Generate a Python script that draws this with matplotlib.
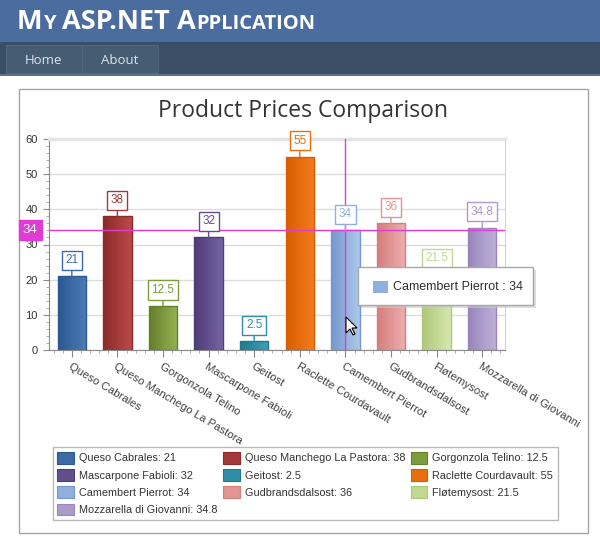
import numpy as np
import matplotlib.pyplot as plt
from matplotlib.patches import Rectangle, Polygon
from matplotlib.colors import to_rgb
from matplotlib.transforms import blended_transform_factory, ScaledTranslation

plt.rcParams['font.family'] = ['Liberation Sans', 'DejaVu Sans']

# data
products = ['Queso Cabrales', 'Queso Manchego La Pastora', 'Gorgonzola Telino',
            'Mascarpone Fabioli', 'Geitost', 'Raclette Courdavault',
            'Camembert Pierrot', 'Gudbrandsdalsost', 'Fløtemysost',
            'Mozzarella di Giovanni']
prices = [21, 38, 12.5, 32, 2.5, 55, 34, 36, 21.5, 34.8]
dark = ['#2c5890', '#8c2a2a', '#657f2a', '#4e3c78', '#20788e',
        '#d85e00', '#7398cc', '#d67c7c', '#aec87a', '#9785bb']
light = ['#4a7cb8', '#bb4a4a', '#94b452', '#7663a2', '#3ea2bb',
         '#f47c1c', '#adc8ea', '#eeb0b0', '#d6e7ae', '#c0b2da']
mid = ['#3b6aa4', '#a33a3a', '#7d9c3e', '#634e8c', '#2f8ea5',
       '#e86e0e', '#8fb0dc', '#e09494', '#c0d890', '#ab9bcb']
crosshair_idx = 6

x = np.arange(len(products))

fig = plt.figure(figsize=(6, 5.4), dpi=100)
renderer = fig.canvas.get_renderer()

# page chrome (pixel coordinates)
bg = fig.add_axes([0, 0, 1, 1])
bg.set_xlim(0, 600)
bg.set_ylim(540, 0)
bg.axis('off')
bg.add_patch(Rectangle((0, 0), 600, 42, fc='#4b6c9e', ec='none'))
bg.add_patch(Rectangle((0, 42), 600, 32, fc='#3a4f63', ec='none'))
bg.add_patch(Rectangle((0, 74), 600, 2, fc='#5c7185', ec='none'))
for i, tab in enumerate(['Home', 'About']):
    bg.add_patch(Rectangle((6 + i * 76, 45), 76, 28, fc='#465c71',
                           ec='#52687e', lw=0.8))
    bg.text(44 + i * 76, 61, tab, color='#dde4ec', fontsize=9.5,
            ha='center', va='center', family=['Open Sans', 'DejaVu Sans'])
bg.add_patch(Rectangle((18.5, 88.5), 569.5, 444.5, fc='white',
                       ec='#a5a5a5', lw=1))

# small caps header, pieces on a shared baseline
pieces = [('M', 19.5), ('Y', 14.5), (' ASP.NET ', 19.5), ('A', 19.5),
          ('PPLICATION', 14.5)]
px = 17
for txt, size in pieces:
    t = bg.text(px, 29, txt, color='white', fontsize=size, fontweight='bold',
                ha='left', va='baseline', family=['Open Sans', 'DejaVu Sans'])
    px += t.get_window_extent(renderer).width

fig.text(303 / 600, 1 - 111 / 540, 'Product Prices Comparison',
         fontsize=16.5, color='#333333', ha='center', va='center',
         family=['Open Sans', 'DejaVu Sans'])

# chart
ax = fig.add_axes([49 / 600, 190 / 540, 456 / 600, 211 / 540])
ax.set_facecolor('white')
w = 0.62
bars = ax.bar(x, prices, width=w, color=mid, zorder=2)
for i, b in enumerate(bars):
    c0, c1 = np.array(to_rgb(dark[i])), np.array(to_rgb(light[i]))
    t = np.linspace(0, 1, 64)[None, :, None]
    grad = c0 + (c1 - c0) * t
    im = ax.imshow(grad, extent=(b.get_x(), b.get_x() + w, 0, prices[i]),
                   aspect='auto', interpolation='bilinear', zorder=2.1)
    im.set_clip_path(b)
ax.bar(x, prices, width=w, fill=False, edgecolor=dark, lw=1, zorder=2.2)

for i, v in enumerate(prices):
    ax.annotate(f'{v:g}', xy=(i, v), xytext=(0, 16), textcoords='offset pixels',
                ha='center', va='center', fontsize=8.5, color=mid[i],
                bbox=dict(boxstyle='square,pad=0.3', fc='white', ec=mid[i], lw=1),
                arrowprops=dict(arrowstyle='-', color=mid[i], lw=1,
                                shrinkA=0, shrinkB=0), zorder=4)

ax.set_xlim(-0.5, len(products) - 0.5)
ax.set_ylim(0, 60)
ax.set_yticks(range(0, 61, 10))
ax.set_yticks(np.arange(0, 61, 2), minor=True)
ax.set_xticks(x)
ax.set_xticks(np.arange(-0.4, len(products) - 0.5, 0.2), minor=True)
ax.set_xticklabels(products, rotation=-31, ha='left', va='top',
                   rotation_mode='anchor', fontsize=8.2, color='#404040')
shift = ScaledTranslation(4 / 100, 0, fig.dpi_scale_trans)
for lab in ax.get_xticklabels():
    lab.set_transform(lab.get_transform() + shift)
ax.tick_params(axis='y', labelsize=8, labelcolor='#333333', color='#8a8a8a',
               length=4, pad=4)
ax.tick_params(axis='x', color='#8a8a8a', length=5, pad=3)
ax.tick_params(which='minor', color='#a0a0a0', length=2.5)
ax.yaxis.grid(True, color='#dddddd', lw=1, zorder=0)
ax.set_axisbelow(True)
for s in ['left', 'bottom']:
    ax.spines[s].set_color('#8a8a8a')
ax.spines['top'].set_color('#e4e4e4')
ax.spines['top'].set_linewidth(2.5)
ax.spines['right'].set_color('#d4d4d4')

# crosshair
cross = '#e23ad6'
cy = prices[crosshair_idx]
ax.axhline(cy, color=cross, lw=1, zorder=3)
ax.axvline(crosshair_idx, color=cross, lw=1, zorder=3)
trans = blended_transform_factory(ax.transAxes, ax.transData)
ax.text(-0.025, cy, f'{cy:g}', transform=trans, ha='right', va='center',
        fontsize=9.5, color='white', clip_on=False, zorder=5,
        bbox=dict(boxstyle='square,pad=0.3', fc=cross, ec=cross))

# legend
handles = [Rectangle((0, 0), 1, 1, fc=mid[i], ec=dark[i], lw=0.8)
           for i in range(len(products))]
labels = [f'{p}: {v:g}' for p, v in zip(products, prices)]
order = [0, 3, 6, 9, 1, 4, 7, 2, 5, 8]
leg = fig.legend([handles[i] for i in order], [labels[i] for i in order],
                 loc='upper left', bbox_to_anchor=(52.5 / 600, 1 - 447 / 540),
                 ncol=3, fontsize=7.8, frameon=True, fancybox=False,
                 edgecolor='#a8a8a8', borderpad=0.45, borderaxespad=0,
                 handlelength=1.55, handleheight=1.3, handletextpad=0.45,
                 labelspacing=0.5, columnspacing=0.5)
leg.get_frame().set_linewidth(1)
for t in leg.get_texts():
    t.set_color('#333333')

# tooltip and cursor overlay
ov = fig.add_axes([0, 0, 1, 1], zorder=10)
ov.set_xlim(0, 600)
ov.set_ylim(540, 0)
ov.axis('off')
ov.add_patch(Rectangle((361, 270), 175, 38, fc='#c8c8c8', ec='none', alpha=0.6))
ov.add_patch(Rectangle((358, 267), 175, 38, fc='white', ec='#a8a8a8', lw=1))
ov.add_patch(Rectangle((373, 281), 15, 12, fc=mid[crosshair_idx], ec='none'))
ov.text(393, 287, f'{products[crosshair_idx]} : {prices[crosshair_idx]:g}',
        fontsize=9, color='#303030', va='center', ha='left')
cursor = np.array([(0, 0), (0, 16), (4, 12), (7, 18), (9, 17), (6, 11), (11, 11)])
ov.add_patch(Polygon(cursor + [346, 317], closed=True, fc='white', ec='black', lw=0.8))

fig.savefig('out.png', dpi=100)
